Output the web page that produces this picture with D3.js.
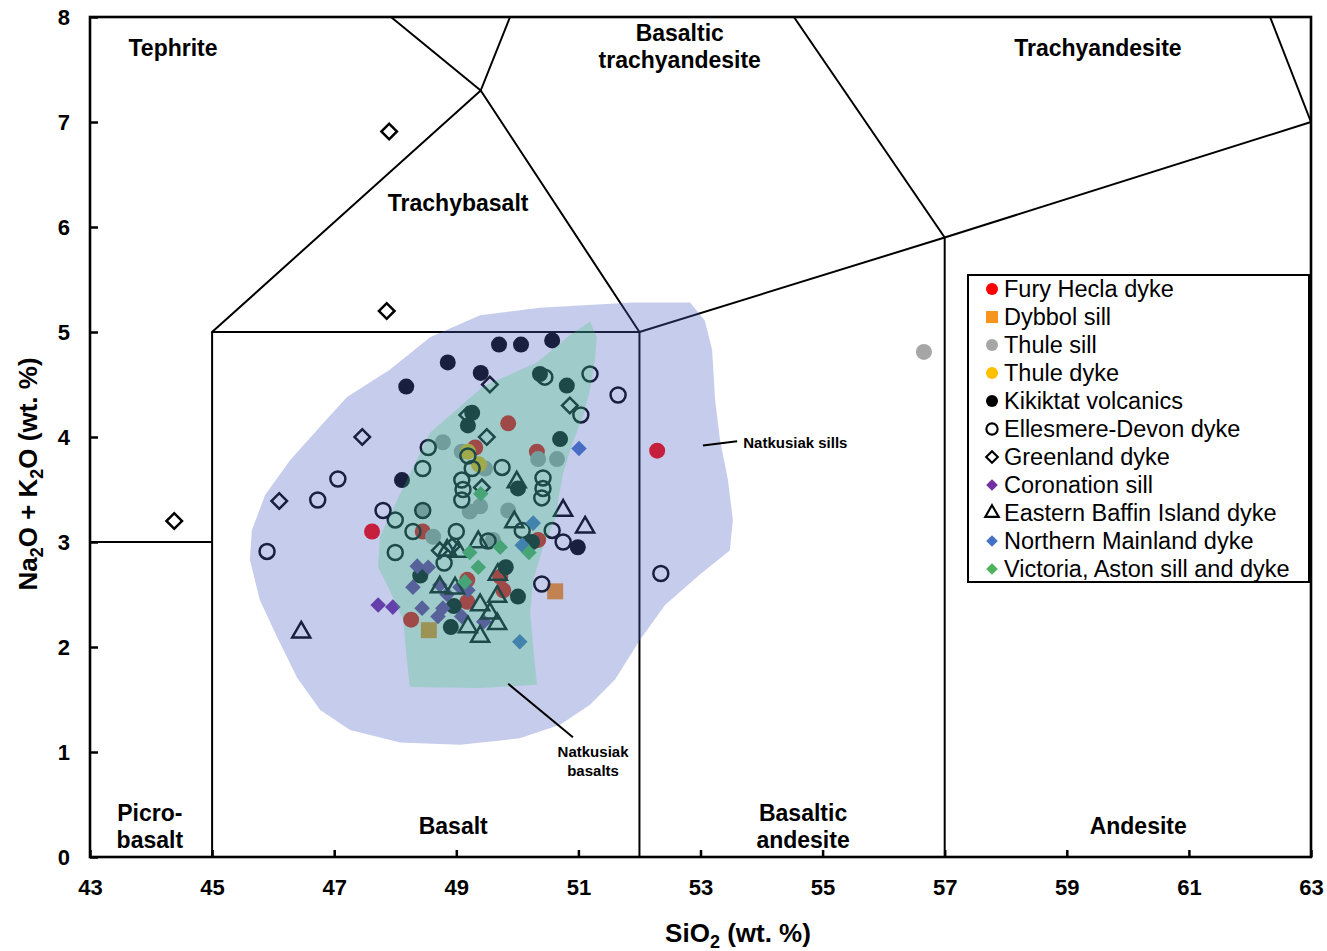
<!DOCTYPE html>
<html lang="en">
<head>
<meta charset="UTF-8" />
<title>TAS diagram</title>
<style>
  body { margin: 0; background: #fff; }
  svg text { font-family: "Liberation Sans", Arial, sans-serif; }
</style>
<script src="https://d3js.org/d3.v7.min.js"></script>
</head>
<body>
<div id="chart"></div>
<script>
// ---- data (SiO2 wt.%, Na2O+K2O wt.%) ----
const xTicks = [43, 45, 47, 49, 51, 53, 55, 57, 59, 61, 63];
const yTicks = [0, 1, 2, 3, 4, 5, 6, 7, 8];

const furyHecla = [[47.62,3.10],[52.29,3.87],[49.85,4.13],[49.31,3.90],[50.32,3.86],[48.26,2.26],[48.45,3.10],[49.18,2.43],[49.18,2.64],[49.72,2.67],[49.77,2.54],[50.34,3.02]];
const dybbolSill = [[48.55,2.16],[50.62,2.53]];
const thuleSill = [[56.66,4.81],[48.78,3.95],[49.09,3.86],[49.47,3.70],[50.34,3.79],[50.65,3.79],[48.45,3.30],[48.62,3.05],[49.22,3.29],[49.39,3.34],[49.85,3.30],[49.60,3.02]];
const thuleDyke = [[49.19,3.86],[49.37,3.74]];
const kikiktat = [[48.18,4.48],[48.86,4.71],[49.40,4.61],[49.70,4.88],[50.06,4.88],[50.57,4.92],[48.11,3.59],[50.99,2.95],[50.37,4.60],[50.81,4.49],[50.70,3.98],[49.26,4.23],[49.19,4.11],[50.01,3.51],[48.41,2.68],[48.96,2.39],[48.91,2.19],[49.81,2.76],[50.01,2.48],[50.24,3.00]];
const ellesmere = [[47.06,3.60],[46.73,3.40],[47.80,3.30],[45.90,2.91],[51.19,4.60],[51.65,4.40],[51.04,4.21],[52.35,2.70],[50.75,3.00],[50.57,3.11],[50.40,2.60],[48.54,3.90],[48.45,3.70],[49.19,3.82],[49.26,3.70],[49.75,3.71],[49.09,3.59],[49.11,3.50],[49.09,3.40],[50.42,3.61],[50.42,3.51],[50.40,3.42],[50.45,4.57],[48.45,3.30],[48.00,3.21],[48.29,3.10],[48.00,2.90],[49.00,3.10],[48.80,2.80],[49.52,3.01],[50.08,3.11]];
const greenland = [[47.90,6.91],[47.86,5.20],[44.38,3.20],[47.46,4.00],[46.10,3.39],[49.55,4.50],[49.50,4.00],[50.86,4.30],[49.42,3.52],[49.18,4.21],[48.73,2.92],[48.93,2.96]];
const coronation = [[47.72,2.40],[47.96,2.38],[48.36,2.77],[48.54,2.76],[48.29,2.57],[48.73,2.59],[48.85,2.50],[48.44,2.37],[48.78,2.37],[48.70,2.29],[49.06,2.57],[49.09,2.29],[49.45,2.24],[49.19,2.54]];
const eastBaffin = [[46.46,2.14],[50.75,3.30],[51.11,3.14],[49.95,3.19],[49.36,3.00],[48.85,2.92],[49.03,2.91],[48.73,2.57],[48.98,2.56],[49.68,2.69],[49.67,2.48],[49.39,2.40],[49.55,2.32],[49.67,2.22],[49.19,2.19],[49.39,2.10],[49.99,3.57]];
const northernMainland = [[51.01,3.89],[50.26,3.18],[50.08,2.97],[50.04,2.05]];
const victoria = [[49.40,3.46],[49.22,2.90],[49.36,2.76],[49.14,2.62],[49.72,2.95],[50.19,2.90]];

// Natkusiak fields
const sillsField = [[49.39,5.16],[50.37,5.23],[51.89,5.28],[52.83,5.28],[53.07,5.11],[53.19,4.83],[53.24,4.35],[53.32,3.97],[53.45,3.59],[53.53,3.21],[53.48,2.92],[52.99,2.69],[52.42,2.40],[52.01,2.07],[51.60,1.69],[51.19,1.45],[50.70,1.26],[50.04,1.13],[49.06,1.07],[48.08,1.09],[47.26,1.21],[46.77,1.40],[46.39,1.71],[46.06,2.10],[45.78,2.45],[45.62,2.83],[45.65,3.11],[45.87,3.45],[46.28,3.78],[46.77,4.10],[47.21,4.38],[47.91,4.64],[48.57,4.95]];
const basaltsField = [[51.19,5.10],[51.30,4.95],[51.27,4.73],[51.19,4.45],[51.08,4.21],[50.91,3.95],[50.75,3.66],[50.67,3.40],[50.65,3.26],[50.42,2.95],[50.26,2.64],[50.21,2.32],[50.26,2.00],[50.32,1.64],[49.39,1.61],[48.24,1.62],[48.19,1.88],[48.13,2.26],[47.91,2.54],[47.72,2.76],[47.75,3.05],[48.03,3.40],[48.13,3.52],[48.57,4.04],[49.44,4.48],[50.32,4.71],[50.86,4.97]];

// TAS field boundaries
const boundaries = [
  [[43,3],[45,3]],
  [[45,0],[45,5],[52,5],[52,0]],
  [[57,0],[57,5.9]],
  [[52,5],[57,5.9],[63,7]],
  [[45,5],[49.4,7.3],[52,5]],
  [[49.4,7.3],[47.93,8]],
  [[49.4,7.3],[49.88,8]],
  [[57,5.9],[54.53,8]],
  [[63,7],[62.33,8]]
];

const fieldLabels = [
  {lines: ["Tephrite"], x: 44.36, y: 7.71},
  {lines: ["Basaltic", "trachyandesite"], x: 52.66, y: 7.85},
  {lines: ["Trachyandesite"], x: 59.51, y: 7.71},
  {lines: ["Trachybasalt"], x: 49.03, y: 6.23},
  {lines: ["Picro-", "basalt"], x: 43.98, y: 0.42},
  {lines: ["Basalt"], x: 48.95, y: 0.30},
  {lines: ["Basaltic", "andesite"], x: 54.68, y: 0.42},
  {lines: ["Andesite"], x: 60.17, y: 0.30}
];

const series = [
  {name: "Fury Hecla dyke", data: furyHecla, shape: "circle", color: "#ff0000", hollow: false},
  {name: "Dybbol sill", data: dybbolSill, shape: "square", color: "#f7941d", hollow: false},
  {name: "Thule sill", data: thuleSill, shape: "circle", color: "#a6a6a6", hollow: false},
  {name: "Thule dyke", data: thuleDyke, shape: "circle", color: "#ffc000", hollow: false},
  {name: "Kikiktat volcanics", data: kikiktat, shape: "circle", color: "#000000", hollow: false},
  {name: "Ellesmere-Devon dyke", data: ellesmere, shape: "circle", color: "#000000", hollow: true},
  {name: "Greenland dyke", data: greenland, shape: "diamond", color: "#000000", hollow: true},
  {name: "Coronation sill", data: coronation, shape: "diamond", color: "#7030a0", hollow: false},
  {name: "Eastern Baffin Island dyke", data: eastBaffin, shape: "triangle", color: "#000000", hollow: true},
  {name: "Northern Mainland dyke", data: northernMainland, shape: "diamond", color: "#4472c4", hollow: false},
  {name: "Victoria, Aston sill and dyke", data: victoria, shape: "diamond", color: "#4fb35a", hollow: false}
];

// ---- chart ----
const width = 1327, height = 951;
const svg = d3.select("#chart").append("svg")
  .attr("width", width)
  .attr("height", height);

const x = d3.scaleLinear().domain([43, 63]).range([90, 1311]);
const y = d3.scaleLinear().domain([0, 8]).range([857, 17]);

const line = d3.line().x(d => x(d[0])).y(d => y(d[1]));

// field boundaries
svg.append("g")
  .selectAll("path").data(boundaries).join("path")
  .attr("d", line)
  .attr("fill", "none")
  .attr("stroke", "#000")
  .attr("stroke-width", 2);

// marker shapes
function markerPath(shape, scale) {
  if (shape === "circle") return d3.symbol(d3.symbolCircle, Math.PI * Math.pow(8 * scale, 2))();
  if (shape === "square") return d3.symbol(d3.symbolSquare, Math.pow(16 * scale, 2))();
  if (shape === "diamond") return d3.symbol(d3.symbolSquare, Math.pow(11 * scale, 2))();
  if (shape === "triangle") return d3.symbol(d3.symbolTriangle, Math.sqrt(3) / 4 * Math.pow(18 * scale, 2))();
}
function hollowPath(shape, scale) {
  if (shape === "circle") return d3.symbol(d3.symbolCircle, Math.PI * Math.pow(7.5 * scale, 2))();
  return markerPath(shape, scale);
}

function drawMarker(sel, s, scale) {
  sel.attr("d", s.hollow ? hollowPath(s.shape, scale) : markerPath(s.shape, scale))
    .attr("fill", s.hollow ? "none" : s.color)
    .attr("stroke", s.hollow ? s.color : "none")
    .attr("stroke-width", s.hollow ? 2.5 * Math.max(scale, 0.85) : 0);
}

const pts = svg.append("g");
series.forEach(s => {
  pts.append("g").selectAll("path").data(s.data).join("path")
    .attr("transform", d => `translate(${x(d[0])},${y(d[1])})` + (s.shape === "diamond" ? " rotate(45)" : ""))
    .call(drawMarker, s, 1);
});

// Natkusiak fields (translucent, over the data)
const area = d3.line().x(d => x(d[0])).y(d => y(d[1])).curve(d3.curveLinearClosed);
svg.append("path").datum(sillsField)
  .attr("d", area)
  .attr("fill", "#4f5fc0")
  .attr("fill-opacity", 0.32);
svg.append("path").datum(basaltsField)
  .attr("d", area)
  .attr("fill", "#31c66a")
  .attr("fill-opacity", 0.25);

// annotations
const ann = svg.append("g").attr("font-weight", "bold").attr("font-size", 15);
ann.append("path").datum([[53.04, 3.92], [53.60, 3.96]])
  .attr("d", line).attr("stroke", "#000").attr("stroke-width", 2);
ann.append("text").attr("x", x(53.70)).attr("y", y(3.95)).attr("dy", "0.35em").text("Natkusiak sills");
ann.append("path").datum([[49.85, 1.65], [50.91, 1.14]])
  .attr("d", line).attr("stroke", "#000").attr("stroke-width", 2);
ann.append("text").attr("x", x(51.24)).attr("y", y(1.00)).attr("dy", "0.35em")
  .attr("text-anchor", "middle").text("Natkusiak");
ann.append("text").attr("x", x(51.24)).attr("y", y(0.82)).attr("dy", "0.35em")
  .attr("text-anchor", "middle").text("basalts");

// field names
const fl = svg.append("g").attr("font-weight", "bold").attr("font-size", 23).attr("text-anchor", "middle");
fieldLabels.forEach(f => {
  const t = fl.append("text").attr("x", x(f.x)).attr("y", y(f.y)).attr("dy", "0.35em");
  f.lines.forEach((l, i) => {
    t.append("tspan").attr("x", x(f.x)).attr("dy", i === 0 ? "0.35em" : 27).text(l);
  });
});

// axes
const xAxis = svg.append("g").attr("transform", `translate(0,${y(0)})`)
  .call(d3.axisBottom(x).tickValues(xTicks).tickSize(-7).tickSizeOuter(0).tickPadding(22));
const yAxis = svg.append("g").attr("transform", `translate(${x(43)},0)`)
  .call(d3.axisLeft(y).tickValues(yTicks).tickSize(-8).tickSizeOuter(0).tickPadding(20));
[xAxis, yAxis].forEach(a => {
  a.select(".domain").remove();
  a.selectAll(".tick line").attr("stroke", "#000").attr("stroke-width", 2.5);
  a.selectAll(".tick text").attr("fill", "#000")
    .attr("font-size", 22).attr("font-weight", "bold")
    .attr("font-family", "'Liberation Sans', Arial, sans-serif");
});

// frame
svg.append("rect")
  .attr("x", x(43)).attr("y", y(8))
  .attr("width", x(63) - x(43)).attr("height", y(0) - y(8))
  .attr("fill", "none").attr("stroke", "#000").attr("stroke-width", 2.6);

// axis titles
const xt = svg.append("text").attr("x", 738).attr("y", 942)
  .attr("text-anchor", "middle").attr("font-size", 26).attr("font-weight", "bold");
xt.append("tspan").text("SiO");
xt.append("tspan").attr("font-size", 18).attr("dy", 6).text("2");
xt.append("tspan").attr("dy", -6).text(" (wt. %)");

const yt = svg.append("text").attr("transform", "translate(37,474) rotate(-90)")
  .attr("text-anchor", "middle").attr("font-size", 26).attr("font-weight", "bold");
yt.append("tspan").text("Na");
yt.append("tspan").attr("font-size", 18).attr("dy", 6).text("2");
yt.append("tspan").attr("dy", -6).text("O + K");
yt.append("tspan").attr("font-size", 18).attr("dy", 6).text("2");
yt.append("tspan").attr("dy", -6).text("O (wt. %)");

// legend
const lg = svg.append("g");
lg.append("rect").attr("x", 968).attr("y", 275).attr("width", 341).attr("height", 307)
  .attr("fill", "#fff").attr("stroke", "#000").attr("stroke-width", 2);
series.forEach((s, i) => {
  const cy = 289 + i * 28;
  lg.append("path")
    .attr("transform", `translate(992,${cy})` + (s.shape === "diamond" ? " rotate(45)" : ""))
    .call(drawMarker, s, 0.75);
  lg.append("text").attr("x", 1004).attr("y", cy).attr("dy", "0.35em")
    .attr("font-size", 23.5).text(s.name);
});
</script>
</body>
</html>
